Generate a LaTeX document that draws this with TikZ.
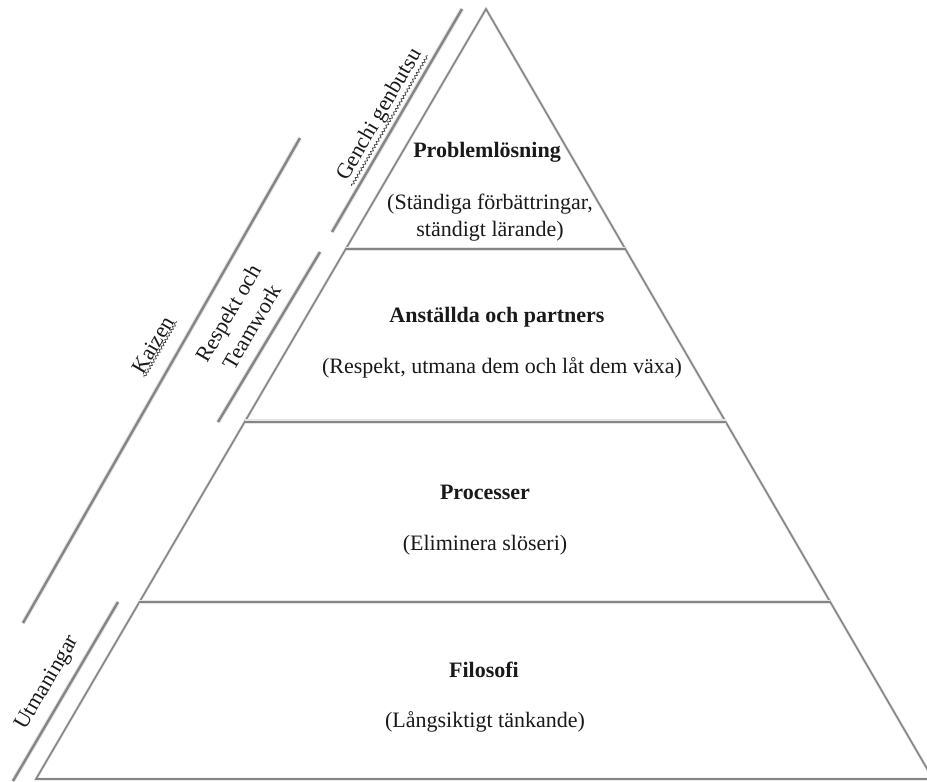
\documentclass[tikz,border=0pt]{standalone}
\usepackage{fontspec}
\setmainfont{Liberation Serif}
\usepackage{xcolor}
\usepackage{tikz}
\usetikzlibrary{positioning, calc, decorations.pathmorphing}

\definecolor{pyrgray}{HTML}{858585}
\newcommand{\pyrfont}{\fontsize{22}{27}\selectfont}

\tikzset{
  edge/.style={draw=pyrgray, line width=1.6pt, line join=miter,
    preaction={draw=black!10, line width=3pt}},
  bar/.style={draw=pyrgray, line width=2.4pt,
    preaction={draw=black!10, line width=4.5pt}},
  tiertitle/.style={font={\pyrfont\bfseries}, text=black!90},
  tiernote/.style={font=\pyrfont, align=center, text=black!90},
  sidelabel/.style={font=\pyrfont, rotate=59.8, align=center, text=black!90},
  squiggle/.style={draw=black!75, line width=0.7pt, decorate,
    decoration={snake, amplitude=1.2pt, segment length=3.8pt}}
}

\begin{document}
\begin{tikzpicture}[x=1pt, y=-1pt]
\useasboundingbox (0,0) rectangle (927,782);

% Pyramid outline
\coordinate (apex) at (486,9);
\coordinate (bl) at (36,779);
\coordinate (br) at (933,779);
\draw[edge] (bl) -- (apex) -- (br) -- cycle;

% Tier dividers
\foreach \t/\name in {0.3117/one, 0.536/two, 0.770/three} {
    \coordinate (l\name) at ($(apex)!\t!(bl)$);
    \coordinate (r\name) at ($(apex)!\t!(br)$);
    \draw[bar] (l\name) -- (r\name);
}

% Side bars
\coordinate (genA) at (462,9);   \coordinate (genB) at (332,232);
\coordinate (resA) at (320,252); \coordinate (resB) at (218,422);
\coordinate (kaiA) at (300,138); \coordinate (kaiB) at (23,623);
\coordinate (utmA) at (118,602); \coordinate (utmB) at (13,781);
\foreach \s in {gen, res, kai, utm} {
    \draw[bar] (\s A) -- (\s B);
}

% Side labels
\node[sidelabel, inner sep=1pt] (genlabel) at (380,115) {Genchi genbutsu};
\node[sidelabel] (reslabel) at (240,320) {Respekt och\\Teamwork};
\node[sidelabel, inner sep=1pt] (kailabel) at (153,345) {Kaizen};
\node[sidelabel] (utmlabel) at (48,683) {Utmaningar};

% Spelling squiggles
\draw[squiggle] (genlabel.south west) -- (genlabel.south east);
\draw[squiggle] (kailabel.south west) -- (kailabel.south east);

% Tier texts
\node[tiertitle] (probtitle) at (487,152) {Problemlösning};
\node[tiernote] (probnote) at (490,218) {(Ständiga förbättringar,\\ständigt lärande)};
\node[tiertitle] (anstitle) at (497,317) {Anställda och partners};
\node[tiernote] (ansnote) at (502,368) {(Respekt, utmana dem och låt dem växa)};
\node[tiertitle] (proctitle) at (485,492) {Processer};
\node[tiernote] (procnote) at (485,545) {(Eliminera slöseri)};
\node[tiertitle] (filtitle) at (484,670) {Filosofi};
\node[tiernote] (filnote) at (485,722) {(Långsiktigt tänkande)};

\end{tikzpicture}
\end{document}
